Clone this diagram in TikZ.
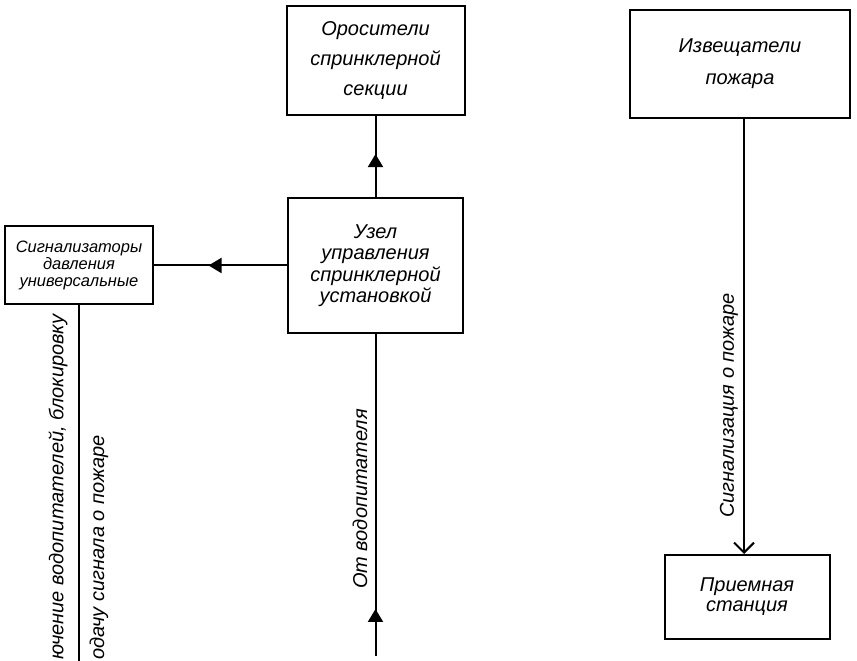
\documentclass[tikz,border=0pt]{standalone}
\usepackage{fontspec}
\setmainfont{Liberation Sans}
\usetikzlibrary{arrows.meta, positioning, decorations.markings}

\begin{document}
\begin{tikzpicture}[
  x=1pt, y=1pt,
  box/.style={draw, line width=2pt, align=center, inner sep=2pt,
    font=\itshape\fontsize{20}{#1}\selectfont},
  box/.default=22,
  wire/.style={line width=2pt},
  lbl/.style={rotate=90, inner sep=0pt, font=\itshape\fontsize{20}{24}\selectfont},
  midarr/.style={postaction={decorate}, decoration={markings,
    mark=at position #1 with {\arrow{Triangle[length=13pt,width=15pt]}}}}
]
\useasboundingbox (0,0) rectangle (857,661);

\node[box=21.5, minimum width=175pt, minimum height=135pt] (uzel) at (375.5,395.5)
  {Узел\\управления\\спринклерной\\установкой};
\node[box=30, minimum width=178pt, minimum height=109pt, above=81pt of uzel] (oros)
  {Оросители\\спринклерной\\секции};
\node[box, font=\itshape\fontsize{16.5}{17}\selectfont, minimum width=148pt,
  minimum height=78pt, left=133pt of uzel] (sign)
  {Сигнализаторы\\давления\\универсальные};
\node[box=32, minimum width=220pt, minimum height=108pt] (izv) at (740,597)
  {Извещатели\\пожара};
\node[box=20, minimum width=165pt, minimum height=84pt, below=435pt of izv, xshift=7pt] (priem)
  {Приемная\\станция};

\coordinate (inlet) at (uzel.south |- 0,5);
\coordinate (sigend) at (sign.south |- 0,0);
\coordinate (izvout) at ([xshift=4pt]izv.south);

\draw[wire, midarr=0.53] (uzel) -- (oros);
\draw[wire, midarr=0.59] (uzel) -- (sign);
\draw[wire, midarr=0.146] (inlet) -- (uzel);
\draw[wire] (sign) -- (sigend);
\draw[wire, -{Straight Barb[length=10pt,width=20pt]}] (izvout) -- (izvout |- priem.north);

% labels along the lines
\node[lbl] (vodlbl) at (360,162) {От водопитателя};
\node[lbl] (pozlbl) at (729,255.5) {Сигнализация о пожаре};
\node[lbl, anchor=west] (blklbl) at (58,1) {ючение водопитателей, блокировку};
\node[lbl, anchor=west] (podlbl) at (99,1) {одачу сигнала о пожаре};
\end{tikzpicture}
\end{document}
